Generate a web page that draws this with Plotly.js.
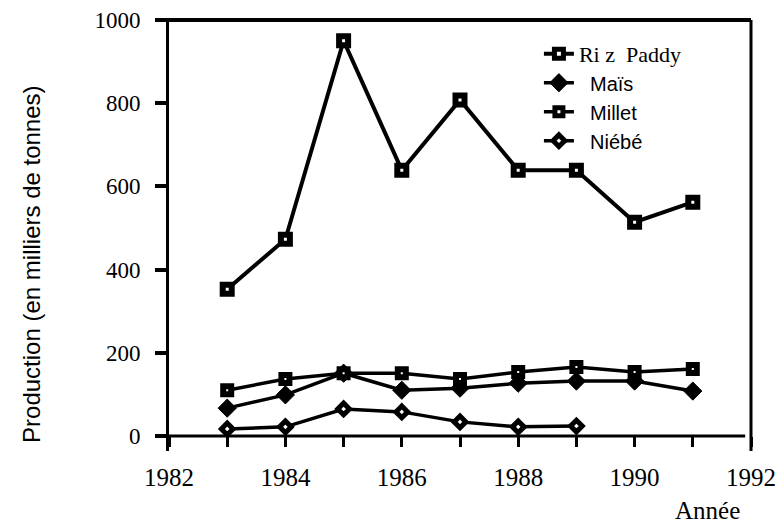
<!DOCTYPE html>
<html>
<head>
<meta charset="utf-8">
<script src="https://cdn.plot.ly/plotly-3.0.1.min.js"></script>
<style>html,body{margin:0;padding:0;background:#fff;}#chart{width:777px;height:527px;}</style>
</head>
<body>
<div id="chart"></div>
<script>
const years = [1983, 1984, 1985, 1986, 1987, 1988, 1989, 1990, 1991];
const yearsNiebe = [1983, 1984, 1985, 1986, 1987, 1988, 1989];
const rizPaddy = [353, 473, 950, 639, 808, 639, 639, 514, 562];
const mais = [67, 99, 151, 110, 115, 127, 132, 132, 108];
const millet = [110, 137, 151, 151, 137, 154, 166, 154, 161];
const niebe = [17, 22, 65, 58, 34, 22, 24];
const xTickVals = [1982, 1983, 1984, 1985, 1986, 1987, 1988, 1989, 1990, 1991, 1992];
const xTickText = ['1982', '', '1984', '', '1986', '', '1988', '', '1990', '', '1992'];
const yTickVals = [0, 200, 400, 600, 800, 1000];
const yTickText = ['0', '200', '400', '600', '800', '1000'];
const seriesNames = ['<span style="font-family:Liberation Serif;font-size:22px">Ri\u00a0z\u00a0\u00a0Paddy</span>',
  '\u00a0\u00a0Maïs', '\u00a0\u00a0Millet', '\u00a0\u00a0Niébé'];

const SERIF = 'Liberation Serif';
const SANS = 'Liberation Sans';

const traces = [
  {x: years, y: rizPaddy, name: seriesNames[0], mode: 'lines+markers',
   line: {color: '#000', width: 4},
   marker: {symbol: 'square', size: 9, color: '#fff', line: {color: '#000', width: 6}}},
  {x: years, y: mais, name: seriesNames[1], mode: 'lines+markers',
   line: {color: '#000', width: 3.5},
   marker: {symbol: 'diamond', size: 14, color: '#000', line: {color: '#000', width: 1}}},
  {x: years, y: millet, name: seriesNames[2], mode: 'lines+markers',
   line: {color: '#000', width: 3.5},
   marker: {symbol: 'square', size: 8, color: '#fff', line: {color: '#000', width: 6}}},
  {x: yearsNiebe, y: niebe, name: seriesNames[3], mode: 'lines+markers',
   line: {color: '#000', width: 3.5},
   marker: {symbol: 'diamond', size: 9, color: '#fff', line: {color: '#000', width: 5}}}
];

const layout = {
  width: 777, height: 527,
  margin: {l: 169, r: 26, t: 20, b: 76, pad: 0},
  paper_bgcolor: '#fff', plot_bgcolor: '#fff',
  showlegend: true,
  legend: {x: 0.6356, y: 0.967, xanchor: 'left', yanchor: 'top', bgcolor: 'rgba(0,0,0,0)',
    font: {family: SANS, size: 20, color: '#000'},
    tracegroupgap: 0, itemwidth: 30},
  xaxis: {range: [1982, 1992], anchor: 'free', position: 0.0347,
    tickmode: 'array', tickvals: xTickVals, ticktext: xTickText,
    ticks: 'outside', ticklen: 10, tickwidth: 3, tickcolor: '#000',
    ticklabelstandoff: 9,
    showline: false, showgrid: false, zeroline: false,
    tickfont: {family: SERIF, size: 25, color: '#000'}},
  yaxis: {range: [-36, 1000], anchor: 'x',
    tickmode: 'array', tickvals: yTickVals, ticktext: yTickText,
    ticks: 'outside', ticklen: 11, tickwidth: 4, tickcolor: '#000',
    ticklabelstandoff: 10,
    showline: true, linewidth: 3, linecolor: '#000', showgrid: false, zeroline: false,
    tickfont: {family: SERIF, size: 23, color: '#000'}},
  shapes: [
    {type: 'line', xref: 'paper', yref: 'y', x0: -0.024, x1: 0.99, y0: 0, y1: 0, line: {color: '#000', width: 3}},
    {type: 'line', xref: 'paper', yref: 'paper', x0: -0.019, x1: 1, y0: 1, y1: 1, line: {color: '#000', width: 4}},
    {type: 'line', xref: 'paper', yref: 'paper', x0: 1, x1: 1, y0: 0, y1: 1, line: {color: '#000', width: 3}}
  ],
  annotations: [
    {text: 'Année', xref: 'paper', yref: 'paper', x: 0.926, y: -0.139, xanchor: 'center', yanchor: 'middle',
     showarrow: false, font: {family: SERIF, size: 25, color: '#000'}},
    {text: 'Production (en milliers de tonnes)', textangle: -90, xref: 'paper', yref: 'paper',
     x: -0.2354, y: 0.434, xanchor: 'center', yanchor: 'middle',
     showarrow: false, font: {family: SANS, size: 24, color: '#000'}}
  ]
};

Plotly.newPlot('chart', traces, layout, {displayModeBar: false, staticPlot: true});
</script>
</body>
</html>
